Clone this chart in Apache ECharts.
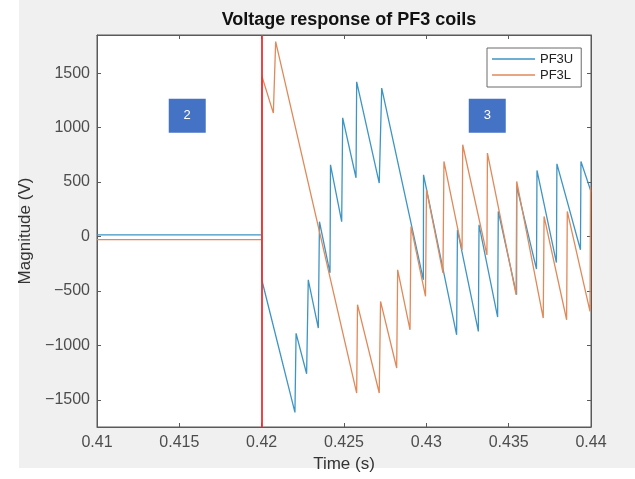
<!DOCTYPE html>
<html>
<head>
<meta charset="utf-8">
<script src="https://cdn.jsdelivr.net/npm/echarts@6/dist/echarts.min.js"></script>
<style>
html,body{margin:0;padding:0;background:#fff;}
#chart{width:635px;height:479px;}
</style>
</head>
<body>
<div id="chart"></div>
<script>
// ---- data ----
var titleText = 'Voltage response of PF3 coils';
var xTicks = [0.41, 0.415, 0.42, 0.425, 0.43, 0.435, 0.44];
var yTicks = [-1500, -1000, -500, 0, 500, 1000, 1500];
var seriesNames = ['PF3U', 'PF3L'];

var tU = [0.41, 0.42, 0.42001, 0.42202, 0.42209, 0.42273, 0.42283, 0.42344, 0.42351, 0.42415,
          0.42418, 0.42486, 0.42492, 0.42573, 0.42577, 0.42714, 0.42729, 0.42982, 0.42983, 0.43184,
          0.43189, 0.43316, 0.43320, 0.43433, 0.43437, 0.43548, 0.43549, 0.43669, 0.43672, 0.43790,
          0.43793, 0.43936, 0.43939, 0.44];
var vU = [15, 15, -400, -1616, -890, -1261, -398, -841, 135, -334,
          658, 135, 1089, 539, 1420, 490, 1363, -398, 566, -903,
          60, -872, 107, -740, 230, -535, 459, -300, 606, -240,
          667, -122, 689, 413];

var tL = [0.41, 0.42, 0.42002, 0.42071, 0.42085, 0.42577, 0.42582, 0.42714, 0.42722, 0.42820,
          0.42826, 0.42901, 0.42907, 0.42995, 0.43001, 0.43101, 0.43107, 0.43217, 0.43221, 0.43368,
          0.43371, 0.43545, 0.43549, 0.43710, 0.43715, 0.43852, 0.43856, 0.43994, 0.43997, 0.44];
var vL = [-30, -30, 1469, 1133, 1790, -1438, -627, -1438, -597, -1208,
          -306, -857, 92, -550, 429, -335, 689, -124, 842, -170,
          766, -535, 505, -749, 184, -765, 230, -689, 459, 459];

var eventTime = 0.42;
var boxLabels = ['2', '3'];
var boxT = [0.41548, 0.43370];
var boxV = [1108, 1108];

// ---- chart ----
function pairs(t, v){ return t.map(function(x,i){ return [x, v[i]]; }); }
var fmtX = function(v){ return String(+(+v).toFixed(3)); };
var fmtY = function(v){ return v < 0 ? '\u2212' + Math.abs(v) : String(v); };
var axisCol = '#5a5a5a';
var labelCol = '#4d4d4d';
var font = 'Liberation Sans, Arial, sans-serif';

var chart = echarts.init(document.getElementById('chart'), null, {renderer:'canvas'});
chart.setOption({
  animation: false,
  backgroundColor: '#ffffff',
  graphic: [{
    type: 'rect', z: -100, silent: true,
    shape: {x: 19, y: 0, width: 616, height: 468},
    style: {fill: '#f0f0f0'}
  }],
  title: {
    text: titleText, left: 344, top: 6, textAlign: 'center',
    textStyle: {fontFamily: font, fontSize: 18, fontWeight: 'bold', color: '#111'}
  },
  legend: {
    orient: 'vertical', left: 487, top: 48,
    data: seriesNames,
    icon: 'rect', itemWidth: 43, itemHeight: 1.5, itemGap: 2,
    padding: [4, 8, 5, 5],
    backgroundColor: '#fff', borderColor: '#6a6a6a', borderWidth: 1, borderRadius: 0,
    textStyle: {fontFamily: font, fontSize: 13, color: '#222', lineHeight: 14, padding: [0,0,0,0]}
  },
  grid: {left: 97, right: 44, top: 35, bottom: 52, show: true, backgroundColor: '#fff', borderColor: axisCol, borderWidth: 1},
  xAxis: [{
    type: 'value', min: 0.41, max: 0.44, position: 'bottom',
    name: 'Time (s)', nameLocation: 'middle', nameGap: 29,
    nameTextStyle: {fontFamily: font, fontSize: 17, color: '#333'},
    axisLine: {show: true, onZero: false, lineStyle: {color: axisCol, width: 1}},
    axisTick: {show: true, inside: true, length: 4, customValues: xTicks, lineStyle: {color: axisCol}},
    axisLabel: {customValues: xTicks, formatter: fmtX, margin: 8, fontFamily: font, fontSize: 16, color: labelCol},
    splitLine: {show: false}
  }, {
    type: 'value', min: 0.41, max: 0.44, position: 'top',
    axisLine: {show: true, onZero: false, lineStyle: {color: axisCol, width: 1}},
    axisTick: {show: true, inside: true, length: 4, customValues: xTicks, lineStyle: {color: axisCol}},
    axisLabel: {show: false}, splitLine: {show: false}
  }],
  yAxis: [{
    type: 'value', min: -1750, max: 1850, position: 'left',
    name: 'Magnitude (V)', nameLocation: 'middle', nameGap: 53, nameRotate: 90,
    nameTextStyle: {fontFamily: font, fontSize: 17, color: '#333'},
    axisLine: {show: true, onZero: false, lineStyle: {color: axisCol, width: 1}},
    axisTick: {show: true, inside: true, length: 4, customValues: yTicks, lineStyle: {color: axisCol}},
    axisLabel: {customValues: yTicks, formatter: fmtY, margin: 7, fontFamily: font, fontSize: 16, color: labelCol},
    splitLine: {show: false}
  }, {
    type: 'value', min: -1750, max: 1850, position: 'right',
    axisLine: {show: true, onZero: false, lineStyle: {color: axisCol, width: 1}},
    axisTick: {show: true, inside: true, length: 4, customValues: yTicks, lineStyle: {color: axisCol}},
    axisLabel: {show: false}, splitLine: {show: false}
  }],
  series: [{
    name: seriesNames[0], type: 'line', showSymbol: false, symbol: 'none',
    data: pairs(tU, vU), color: '#3d95c5',
    lineStyle: {width: 1.3, color: '#3d95c5'},
    z: 3,
    markPoint: {
      symbol: 'rect', symbolSize: [37, 34], silent: true,
      itemStyle: {color: '#4472c4'},
      label: {show: true, color: '#fff', fontSize: 13, fontFamily: font, formatter: function(p){ return p.name; }},
      data: boxLabels.map(function(n, i){ return {name: n, coord: [boxT[i], boxV[i]]}; })
    }
  }, {
    name: seriesNames[1], type: 'line', showSymbol: false, symbol: 'none',
    data: pairs(tL, vL), color: '#e0895a',
    lineStyle: {width: 1.3, color: '#e0895a'},
    z: 4,
    markLine: {
      silent: true, symbol: ['none', 'none'],
      label: {show: false},
      lineStyle: {color: '#ee3030', width: 2, type: 'solid', opacity: 0.9},
      data: [{xAxis: eventTime}]
    }
  }]
});
</script>
</body>
</html>
